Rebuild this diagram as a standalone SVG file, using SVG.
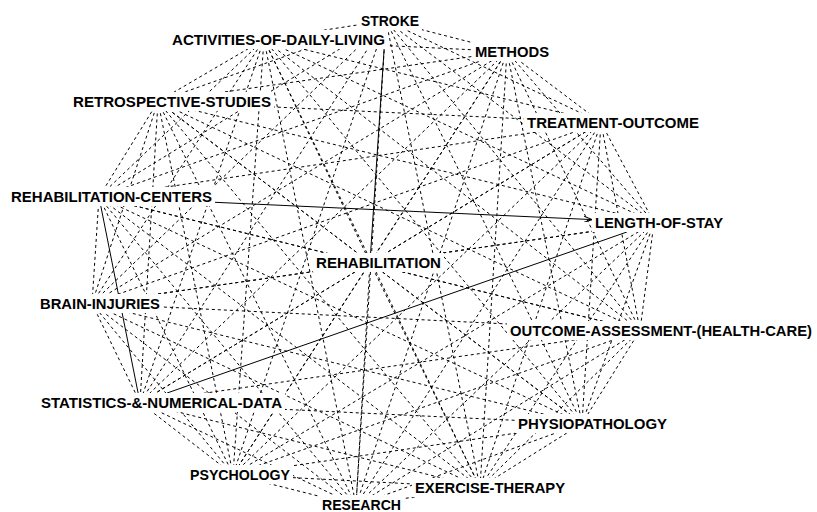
<svg xmlns="http://www.w3.org/2000/svg" width="817" height="512" viewBox="0 0 817 512">
  <style>
    .d { stroke: #000; stroke-width: 1; stroke-dasharray: 3 3; fill: none; }
    .s { stroke: #000; stroke-width: 1; fill: none; }
    .bg { fill: #fff; stroke: none; }
    .lbl { font-family: "Liberation Sans", Arial, sans-serif; font-weight: bold; font-size: 15px; fill: #000; }
  </style>
  <defs>
    <marker id="arrow" viewBox="0 0 8 6" refX="8" refY="3" markerWidth="8" markerHeight="6" markerUnits="userSpaceOnUse" orient="auto">
      <path d="M0,0 L8,3 L0,6" fill="none" stroke="#000" stroke-width="1"/>
    </marker>
  </defs>
  <rect width="817" height="512" fill="#fff"/>

  <!-- connectors: every pair of terms, drawn between term anchors -->
  <g id="connectors">
    <!-- STROKE -->
    <line class="d" x1="386" y1="20.5" x2="264" y2="39.5"/>
    <line class="d" x1="386" y1="20.5" x2="507" y2="51.5"/>
    <line class="d" x1="386" y1="20.5" x2="158" y2="101.5"/>
    <line class="d" x1="386" y1="20.5" x2="601" y2="122.5"/>
    <line class="d" x1="386" y1="20.5" x2="99" y2="197"/>
    <line class="d" x1="386" y1="20.5" x2="654" y2="222.5"/>
    <line class="d" x1="386" y1="20.5" x2="92" y2="303.5"/>
    <line class="d" x1="386" y1="20.5" x2="640" y2="330.5"/>
    <line class="d" x1="386" y1="20.5" x2="140" y2="402.5"/>
    <line class="d" x1="386" y1="20.5" x2="582" y2="423.5"/>
    <line class="d" x1="386" y1="20.5" x2="233" y2="474.5"/>
    <line class="d" x1="386" y1="20.5" x2="480" y2="487.5"/>
    <line class="d" x1="386" y1="20.5" x2="356" y2="505.5"/>
    <!-- ACTIVITIES-OF-DAILY-LIVING -->
    <line class="d" x1="264" y1="39.5" x2="507" y2="51.5"/>
    <line class="d" x1="264" y1="39.5" x2="158" y2="101.5"/>
    <line class="d" x1="264" y1="39.5" x2="601" y2="122.5"/>
    <line class="d" x1="264" y1="39.5" x2="99" y2="197"/>
    <line class="d" x1="264" y1="39.5" x2="654" y2="222.5"/>
    <line class="d" x1="264" y1="39.5" x2="370" y2="262.5"/>
    <line class="d" x1="264" y1="39.5" x2="92" y2="303.5"/>
    <line class="d" x1="264" y1="39.5" x2="640" y2="330.5"/>
    <line class="d" x1="264" y1="39.5" x2="140" y2="402.5"/>
    <line class="d" x1="264" y1="39.5" x2="582" y2="423.5"/>
    <line class="d" x1="264" y1="39.5" x2="233" y2="474.5"/>
    <line class="d" x1="264" y1="39.5" x2="480" y2="487.5"/>
    <line class="d" x1="264" y1="39.5" x2="356" y2="505.5"/>
    <!-- METHODS -->
    <line class="d" x1="507" y1="51.5" x2="158" y2="101.5"/>
    <line class="d" x1="507" y1="51.5" x2="601" y2="122.5"/>
    <line class="d" x1="507" y1="51.5" x2="99" y2="197"/>
    <line class="d" x1="507" y1="51.5" x2="654" y2="222.5"/>
    <line class="d" x1="507" y1="51.5" x2="370" y2="262.5"/>
    <line class="d" x1="507" y1="51.5" x2="92" y2="303.5"/>
    <line class="d" x1="507" y1="51.5" x2="640" y2="330.5"/>
    <line class="d" x1="507" y1="51.5" x2="140" y2="402.5"/>
    <line class="d" x1="507" y1="51.5" x2="582" y2="423.5"/>
    <line class="d" x1="507" y1="51.5" x2="233" y2="474.5"/>
    <line class="d" x1="507" y1="51.5" x2="480" y2="487.5"/>
    <line class="d" x1="507" y1="51.5" x2="356" y2="505.5"/>
    <!-- RETROSPECTIVE-STUDIES -->
    <line class="d" x1="158" y1="101.5" x2="601" y2="122.5"/>
    <line class="d" x1="158" y1="101.5" x2="99" y2="197"/>
    <line class="d" x1="158" y1="101.5" x2="654" y2="222.5"/>
    <line class="d" x1="158" y1="101.5" x2="370" y2="262.5"/>
    <line class="d" x1="158" y1="101.5" x2="92" y2="303.5"/>
    <line class="d" x1="158" y1="101.5" x2="640" y2="330.5"/>
    <line class="d" x1="158" y1="101.5" x2="140" y2="402.5"/>
    <line class="d" x1="158" y1="101.5" x2="582" y2="423.5"/>
    <line class="d" x1="158" y1="101.5" x2="233" y2="474.5"/>
    <line class="d" x1="158" y1="101.5" x2="480" y2="487.5"/>
    <line class="d" x1="158" y1="101.5" x2="356" y2="505.5"/>
    <!-- TREATMENT-OUTCOME -->
    <line class="d" x1="601" y1="122.5" x2="99" y2="197"/>
    <line class="d" x1="601" y1="122.5" x2="654" y2="222.5"/>
    <line class="d" x1="601" y1="122.5" x2="370" y2="262.8"/>
    <line class="d" x1="601" y1="122.5" x2="92" y2="303.5"/>
    <line class="d" x1="601" y1="122.5" x2="640" y2="330.5"/>
    <line class="d" x1="601" y1="122.5" x2="140" y2="402.5"/>
    <line class="d" x1="601" y1="122.5" x2="582" y2="423.5"/>
    <line class="d" x1="601" y1="122.5" x2="233" y2="474.5"/>
    <line class="d" x1="601" y1="122.5" x2="480" y2="487.5"/>
    <line class="d" x1="601" y1="122.5" x2="356" y2="505.5"/>
    <!-- REHABILITATION-CENTERS -->
    <line class="d" x1="99" y1="197" x2="370" y2="263.9"/>
    <line class="d" x1="99" y1="197" x2="92" y2="303.5"/>
    <line class="d" x1="99" y1="197" x2="640" y2="330.5"/>
    <line class="d" x1="99" y1="197" x2="582" y2="423.5"/>
    <line class="d" x1="99" y1="197" x2="233" y2="474.5"/>
    <line class="d" x1="99" y1="197" x2="480" y2="487.5"/>
    <line class="d" x1="99" y1="197" x2="356" y2="505.5"/>
    <!-- LENGTH-OF-STAY -->
    <line class="d" x1="654" y1="222.5" x2="370" y2="263.4"/>
    <line class="d" x1="654" y1="222.5" x2="92" y2="303.5"/>
    <line class="d" x1="654" y1="222.5" x2="640" y2="330.5"/>
    <line class="d" x1="654" y1="222.5" x2="582" y2="423.5"/>
    <line class="d" x1="654" y1="222.5" x2="233" y2="474.5"/>
    <line class="d" x1="654" y1="222.5" x2="480" y2="487.5"/>
    <line class="d" x1="654" y1="222.5" x2="356" y2="505.5"/>
    <!-- REHABILITATION (segments lying on longer links keep their dash phase) -->
    <line class="d" x1="370" y1="263.4" x2="92" y2="303.5" stroke-dashoffset="4.8"/>
    <line class="d" x1="370" y1="263.9" x2="640" y2="330.5" stroke-dashoffset="2.8"/>
    <line class="d" x1="370" y1="262.8" x2="140" y2="402.5" stroke-dashoffset="0.27"/>
    <line class="d" x1="370" y1="262.5" x2="582" y2="423.5" stroke-dashoffset="2.2"/>
    <line class="d" x1="370" y1="262.5" x2="233" y2="474.5"/>
    <line class="d" x1="370" y1="262.5" x2="480" y2="487.5"/>
    <line class="d" x1="370" y1="262.5" x2="356" y2="505.5"/>
    <!-- BRAIN-INJURIES -->
    <line class="d" x1="92" y1="303.5" x2="640" y2="330.5"/>
    <line class="d" x1="92" y1="303.5" x2="140" y2="402.5"/>
    <line class="d" x1="92" y1="303.5" x2="582" y2="423.5"/>
    <line class="d" x1="92" y1="303.5" x2="233" y2="474.5"/>
    <line class="d" x1="92" y1="303.5" x2="480" y2="487.5"/>
    <line class="d" x1="92" y1="303.5" x2="356" y2="505.5"/>
    <!-- OUTCOME-ASSESSMENT-(HEALTH-CARE) -->
    <line class="d" x1="640" y1="330.5" x2="140" y2="402.5"/>
    <line class="d" x1="640" y1="330.5" x2="582" y2="423.5"/>
    <line class="d" x1="640" y1="330.5" x2="233" y2="474.5"/>
    <line class="d" x1="640" y1="330.5" x2="480" y2="487.5"/>
    <line class="d" x1="640" y1="330.5" x2="356" y2="505.5"/>
    <!-- STATISTICS-&-NUMERICAL-DATA -->
    <line class="d" x1="140" y1="402.5" x2="582" y2="423.5"/>
    <line class="d" x1="140" y1="402.5" x2="233" y2="474.5"/>
    <line class="d" x1="140" y1="402.5" x2="480" y2="487.5"/>
    <line class="d" x1="140" y1="402.5" x2="356" y2="505.5"/>
    <!-- PHYSIOPATHOLOGY -->
    <line class="d" x1="582" y1="423.5" x2="233" y2="474.5"/>
    <line class="d" x1="582" y1="423.5" x2="480" y2="487.5"/>
    <line class="d" x1="582" y1="423.5" x2="356" y2="505.5"/>
    <!-- PSYCHOLOGY -->
    <line class="d" x1="233" y1="474.5" x2="480" y2="487.5"/>
    <line class="d" x1="233" y1="474.5" x2="356" y2="505.5"/>
    <!-- EXERCISE-THERAPY -->
    <line class="d" x1="480" y1="487.5" x2="356" y2="505.5"/>

    <!-- solid links -->
    <line class="s" x1="385.4" y1="30" x2="370.6" y2="253"/>
    <line class="s" x1="215" y1="202.3" x2="592" y2="219.6" marker-end="url(#arrow)"/>
    <line class="s" x1="100.8" y1="206" x2="138.1" y2="393"/>
    <line class="s" x1="167.1" y1="393" x2="626.9" y2="232"/>
  </g>

  <!-- terms -->
  <g id="n-stroke"><rect class="bg" x="358" y="11" width="64" height="19"/><text class="lbl" x="361" y="26" textLength="58" lengthAdjust="spacingAndGlyphs">STROKE</text></g>
  <g id="n-activities"><rect class="bg" x="169" y="30" width="219" height="19"/><text class="lbl" x="172" y="45" textLength="213" lengthAdjust="spacingAndGlyphs">ACTIVITIES-OF-DAILY-LIVING</text></g>
  <g id="n-methods"><rect class="bg" x="472" y="42" width="80" height="19"/><text class="lbl" x="475" y="57" textLength="74" lengthAdjust="spacingAndGlyphs">METHODS</text></g>
  <g id="n-retrospective"><rect class="bg" x="70" y="92" width="204" height="19"/><text class="lbl" x="73" y="107" textLength="198" lengthAdjust="spacingAndGlyphs">RETROSPECTIVE-STUDIES</text></g>
  <g id="n-treatment"><rect class="bg" x="524" y="113" width="178" height="19"/><text class="lbl" x="527" y="128" textLength="172" lengthAdjust="spacingAndGlyphs">TREATMENT-OUTCOME</text></g>
  <g id="n-rehab-centers"><rect class="bg" x="8" y="187" width="207" height="19"/><text class="lbl" x="11" y="202" textLength="201" lengthAdjust="spacingAndGlyphs">REHABILITATION-CENTERS</text></g>
  <g id="n-length-of-stay"><rect class="bg" x="592" y="213" width="134" height="19"/><text class="lbl" x="595" y="228" textLength="128" lengthAdjust="spacingAndGlyphs">LENGTH-OF-STAY</text></g>
  <g id="n-rehabilitation"><rect class="bg" x="313" y="253" width="131" height="19"/><text class="lbl" x="316" y="268" textLength="125" lengthAdjust="spacingAndGlyphs">REHABILITATION</text></g>
  <g id="n-brain-injuries"><rect class="bg" x="37" y="294" width="126" height="19"/><text class="lbl" x="40" y="309" textLength="120" lengthAdjust="spacingAndGlyphs">BRAIN-INJURIES</text></g>
  <g id="n-outcome-assessment"><rect class="bg" x="507" y="321" width="308" height="19"/><text class="lbl" x="510" y="336" textLength="302" lengthAdjust="spacingAndGlyphs">OUTCOME-ASSESSMENT-(HEALTH-CARE)</text></g>
  <g id="n-statistics"><rect class="bg" x="38" y="393" width="247" height="19"/><text class="lbl" x="41" y="408" textLength="241" lengthAdjust="spacingAndGlyphs">STATISTICS-&amp;-NUMERICAL-DATA</text></g>
  <g id="n-physiopathology"><rect class="bg" x="515" y="414" width="155" height="19"/><text class="lbl" x="518" y="429" textLength="149" lengthAdjust="spacingAndGlyphs">PHYSIOPATHOLOGY</text></g>
  <g id="n-psychology"><rect class="bg" x="187" y="465" width="106" height="19"/><text class="lbl" x="190" y="480" textLength="100" lengthAdjust="spacingAndGlyphs">PSYCHOLOGY</text></g>
  <g id="n-exercise-therapy"><rect class="bg" x="412" y="478" width="156" height="19"/><text class="lbl" x="415" y="493" textLength="150" lengthAdjust="spacingAndGlyphs">EXERCISE-THERAPY</text></g>
  <g id="n-research"><rect class="bg" x="319" y="495" width="85" height="17"/><text class="lbl" x="322" y="509.5" textLength="79" lengthAdjust="spacingAndGlyphs">RESEARCH</text></g>
</svg>
